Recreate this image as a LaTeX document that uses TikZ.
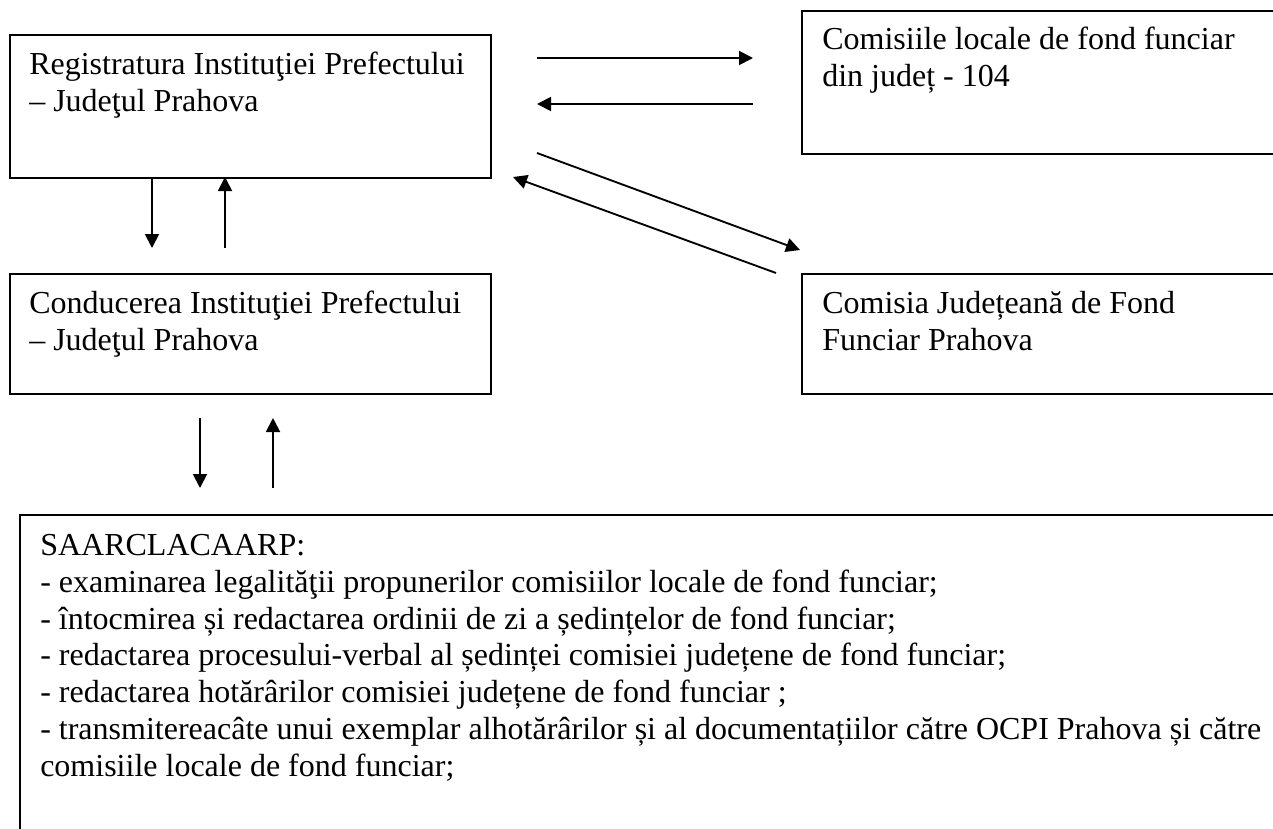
\documentclass[tikz,border=0pt]{standalone}
\usepackage{fontspec}
\setmainfont{Liberation Serif}
\usetikzlibrary{arrows.meta}
\tikzset{
  boxnode/.style={draw=black, line width=1.4pt, rectangle, inner sep=0pt, anchor=north west},
  txt/.style={anchor=base west, inner sep=0pt, font=\fontsize{24}{27.6}\selectfont},
  conn/.style={line width=1.4pt, -{Triangle[length=10.5pt,width=10.5pt]}}
}
\begin{document}
\begin{tikzpicture}[x=0.75pt,y=-0.75pt]
\useasboundingbox (0,0) rectangle (1273,828);
\clip (0,0) rectangle (1273,828);
% boxes
\node[boxnode, minimum width=360.75pt, minimum height=107.25pt] (reg) at (9,34) {};
\node[boxnode, minimum width=366.75pt, minimum height=107.25pt] (loc) at (801,10) {};
\node[boxnode, minimum width=360.75pt, minimum height=90pt] (cond) at (9,273) {};
\node[boxnode, minimum width=366.75pt, minimum height=90pt] (jud) at (801,273) {};
\node[boxnode, minimum width=953.25pt, minimum height=244.5pt] (saar) at (19,514) {};
% texts
\node[txt] (reg1) at (29,74) {Registratura Instituţiei Prefectului};
\node[txt] (reg2) at (29,111) {– Judeţul Prahova};
\node[txt] (loc1) at (822,49) {Comisiile locale de fond funciar};
\node[txt] (loc2) at (822,86) {din județ - 104};
\node[txt] (cond1) at (29,313) {Conducerea Instituţiei Prefectului};
\node[txt] (cond2) at (29,350) {– Judeţul Prahova};
\node[txt] (jud1) at (822,313) {Comisia Județeană de Fond};
\node[txt] (jud2) at (822,350) {Funciar Prahova};
\node[txt] (s1) at (40,555) {SAARCLACAARP:};
\node[txt] (s2) at (40,592) {- examinarea legalităţii propunerilor comisiilor locale de fond funciar;};
\node[txt] (s3) at (40,629) {- întocmirea și redactarea ordinii de zi a ședințelor de fond funciar;};
\node[txt] (s4) at (40,665) {- redactarea procesului-verbal al ședinței comisiei județene de fond funciar;};
\node[txt] (s5) at (40,702) {- redactarea hotărârilor comisiei județene de fond funciar ;};
\node[txt] (s6) at (40,739) {- transmitereacâte unui exemplar alhotărârilor și al documentațiilor către OCPI Prahova și către};
\node[txt] (s7) at (40,776) {comisiile locale de fond funciar;};
% connector end points
\coordinate (a1s) at (537,58);  \coordinate (a1e) at (753,58);
\coordinate (a2s) at (753,104); \coordinate (a2e) at (537,104);
\coordinate (a3s) at (537,153); \coordinate (a3e) at (800,250);
\coordinate (a4s) at (776,273); \coordinate (a4e) at (513,177);
\coordinate (a5s) at (152,177); \coordinate (a5e) at (152,248);
\coordinate (a6s) at (225,248); \coordinate (a6e) at (225,177);
\coordinate (a7s) at (200,418); \coordinate (a7e) at (200,488);
\coordinate (a8s) at (273,488); \coordinate (a8e) at (273,418);
\draw[conn] (a1s) -- (a1e);
\draw[conn] (a2s) -- (a2e);
\draw[conn] (a3s) -- (a3e);
\draw[conn] (a4s) -- (a4e);
\draw[conn] (a5s) -- (a5e);
\draw[conn] (a6s) -- (a6e);
\draw[conn] (a7s) -- (a7e);
\draw[conn] (a8s) -- (a8e);
\end{tikzpicture}
\end{document}
